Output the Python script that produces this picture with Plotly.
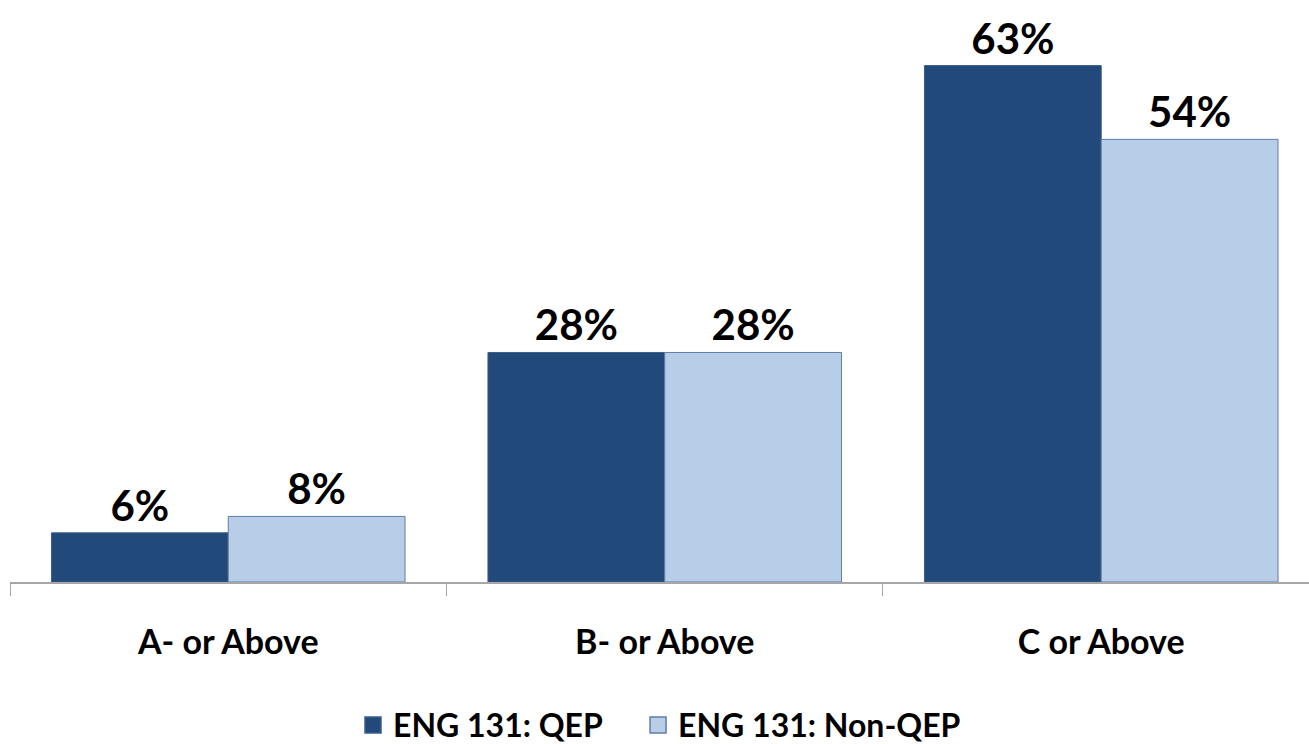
import plotly.graph_objects as go

categories = ["A- or Above", "B- or Above", "C or Above"]
qep = [6, 28, 63]
non_qep = [8, 28, 54]
series_names = ["ENG 131: QEP", "ENG 131: Non-QEP"]
colors = ["#21497A", "#B8CDE8"]
edges = ["#3A5F8C", "#5F7EA6"]

FONT = "Lato"

fig = go.Figure()
for name, vals, col, edge in zip(series_names, [qep, non_qep], colors, edges):
    fig.add_trace(go.Bar(
        x=categories, y=vals, name=name, showlegend=False,
        marker=dict(color=col, line=dict(color=edge, width=1)),
        text=[f"{v}%" for v in vals], textposition="outside",
        textfont=dict(size=42, color="black", family=FONT, weight="bold"),
        cliponaxis=False,
    ))
# legend entries with bigger square swatches; nbsp padding widens the gap between items
for i, (name, col, edge) in enumerate(zip(series_names, colors, edges)):
    pad = "\u00a0" * 4 if i == 0 else ""
    fig.add_trace(go.Scatter(
        x=[None], y=[None], mode="markers", name=name + pad,
        marker=dict(symbol="square", size=20, color=col, line=dict(color=edge, width=1.5)),
    ))

fig.update_layout(
    width=1309, height=744,
    barmode="group", bargap=0.19, bargroupgap=0,
    plot_bgcolor="white", paper_bgcolor="white",
    margin=dict(l=10, r=0, t=0, b=162, autoexpand=False),
    font=dict(family=FONT, color="black"),
    legend=dict(
        orientation="h", x=0.5, xanchor="center", y=-0.246, yanchor="middle",
        font=dict(size=32, family=FONT, color="black", weight="bold"),
        traceorder="normal", itemwidth=30,
    ),
)
fig.update_xaxes(
    range=[-0.5, 2.476],
    showline=True, linecolor="#A6A6A6", linewidth=2,
    ticks="outside", tickson="boundaries", ticklen=12, tickcolor="#A6A6A6",
    tickwidth=1, ticklabelstandoff=29,
    tickfont=dict(size=34, family=FONT, color="black", weight="bold"),
)
fig.update_yaxes(range=[0, 71], visible=False, showgrid=False)

fig.write_html(
    "out.html",
    config={"displayModeBar": False},
    post_script="document.body.style.margin='0';",
)
